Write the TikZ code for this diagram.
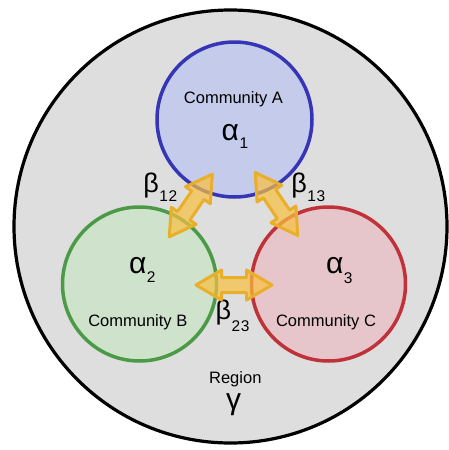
\documentclass[tikz,border=0pt]{standalone}
\usepackage{fontspec}
\setmainfont{Liberation Sans}
\usetikzlibrary{calc}
\definecolor{regionfill}{HTML}{DEDEDE}
\definecolor{afill}{HTML}{C5CBEA}
\definecolor{adraw}{HTML}{3535B5}
\definecolor{bfill}{HTML}{CFE3CC}
\definecolor{bdraw}{HTML}{4A9A46}
\definecolor{cfill}{HTML}{E6C6CB}
\definecolor{cdraw}{HTML}{C0323A}
\definecolor{arrfill}{HTML}{F9C03F}
\definecolor{arrdraw}{HTML}{E9AF2B}
\newcommand\grk[4]{{\fontsize{#4}{#4}\selectfont #1}\kern0.5pt\raisebox{-#3pt}{\fontsize{15.5}{15.5}\selectfont\addfontfeature{LetterSpace=4} #2}}
\tikzset{
  community/.style={circle, line width=3.5pt, minimum size=154pt, inner sep=0pt},
  lbl/.style={font=\fontsize{16.5}{18}\selectfont, inner sep=0pt, anchor=base},
  greek/.style={inner sep=0pt, anchor=base west},
  arrowbody/.style={fill=arrfill, fill opacity=0.7, draw=arrdraw, line width=3pt, line join=round},
  dblarrow/.pic={
    \path[arrowbody] (-38,0) -- (-12.5,15) -- (-12.5,7.5) -- (12.5,7.5) -- (12.5,15) -- (38,0)
      -- (12.5,-15) -- (12.5,-7.5) -- (-12.5,-7.5) -- (-12.5,-15) -- cycle;
  }
}
\begin{document}
\begin{tikzpicture}[x=1pt,y=-1pt]
\useasboundingbox (0,0) rectangle (448,450);
\node[circle, draw=black, line width=3.2pt, fill=regionfill, minimum size=433pt, inner sep=0pt] (R) at (230.5,226.5) {};
\node[community, draw=adraw, fill=afill, minimum size=155pt] (A) at (234.5,119.5) {};
\node[community, draw=bdraw, fill=bfill] (B) at (139.5,284) {};
\node[community, draw=cdraw, fill=cfill] (C) at (328.5,284) {};
% texts
\node[lbl] (tA) at (233.5,103.3) {Community A};
\node[lbl] (tB) at (137.8,326.5) {Community B};
\node[lbl] (tC) at (326,326.5) {Community C};
\node[lbl] (tR) at (235.3,383.3) {Region};
\node[inner sep=0pt, anchor=base, font=\fontsize{30}{30}\selectfont] (g) at (233.7,409) {γ};
\node[greek] (a1) at (221.5,140) {\grk{α}{1}{8}{30}};
\node[greek] (a2) at (128.8,273) {\grk{α}{2}{9.7}{30}};
\node[greek] (a3) at (325.8,273) {\grk{α}{3}{10}{30}};
\node[greek] (b12) at (143.2,192) {\grk{β}{12}{9.3}{27}};
\node[greek] (b13) at (291.2,192) {\grk{β}{13}{9.3}{27}};
\node[greek] (b23) at (215.5,319) {\grk{β}{23}{12}{27}};
% arrows
\coordinate (ab) at (190.8,205.5);
\coordinate (ac) at (276.5,204);
\coordinate (bc) at (234,285);
\pic[rotate=55.5] at (ab) {dblarrow};
\pic[rotate=-56] at (ac) {dblarrow};
\pic at (bc) {dblarrow};
\end{tikzpicture}
\end{document}
